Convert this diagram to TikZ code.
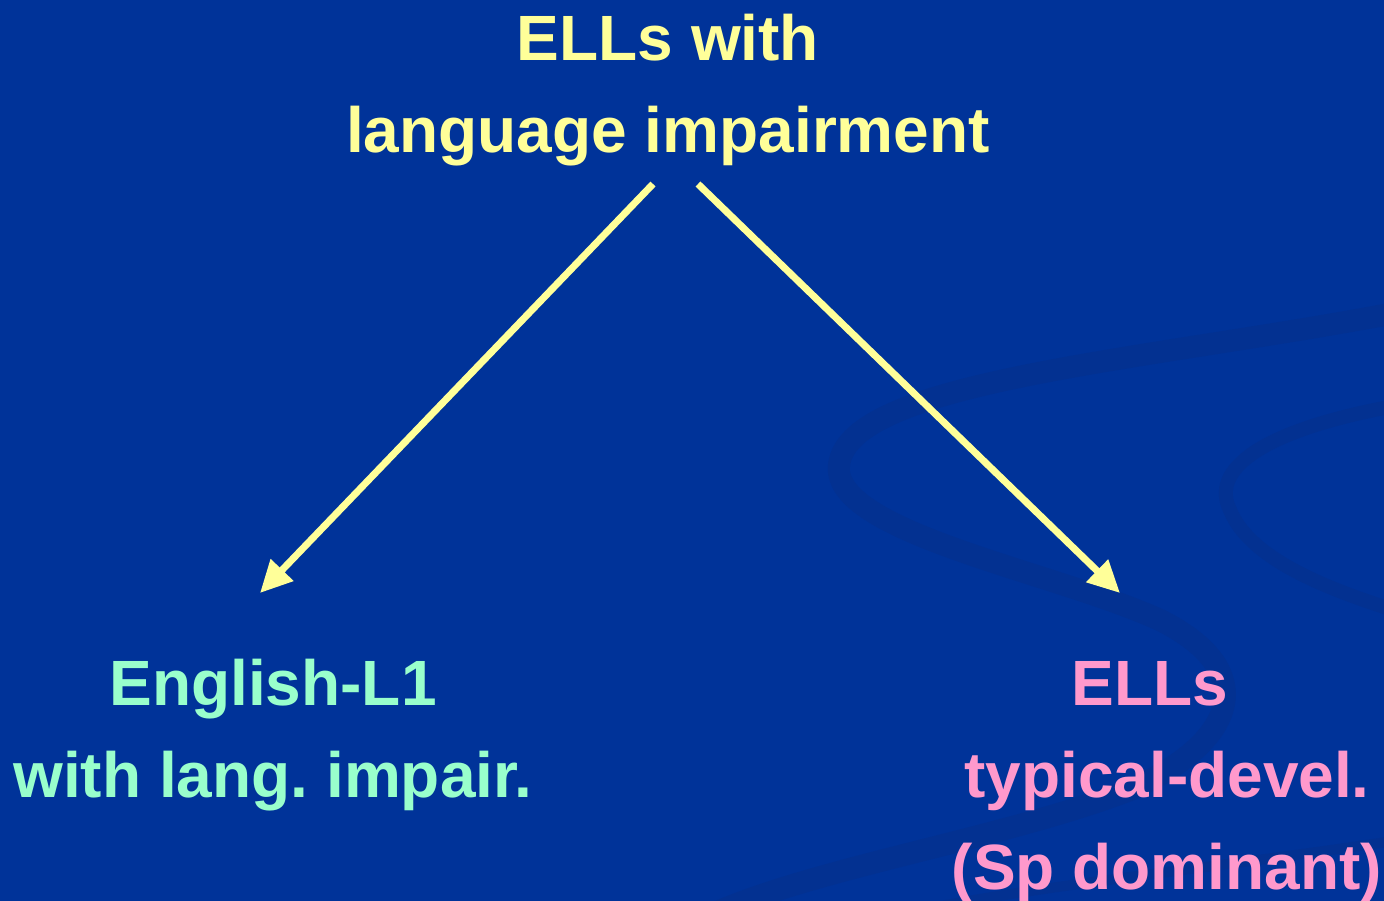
\documentclass[tikz,border=0pt]{standalone}
\usepackage{fontspec}
\setmainfont{Liberation Sans}
\usepackage{tikz}
\usetikzlibrary{arrows.meta,positioning}
\definecolor{slideblue}{HTML}{003399}
\definecolor{swirlblue}{HTML}{033191}
\definecolor{ellyellow}{HTML}{FFFF99}
\definecolor{ellgreen}{HTML}{99FFCC}
\definecolor{ellpink}{HTML}{FF99CC}
\frenchspacing
\tikzset{
  slidetext/.style = {align=center, inner sep=0pt, font=\fontsize{64}{92}\selectfont\bfseries},
  topnode/.style = {slidetext, text=ellyellow},% ELLs with language impairment
  leftnode/.style = {slidetext, text=ellgreen},% English-L1
  rightnode/.style = {slidetext, text=ellpink},% ELLs typical-devel.
  yarrow/.style = {draw=ellyellow, line width=7pt,
    -{Triangle[length=32pt,width=30pt]}}
}

\begin{document}
\begin{tikzpicture}[x=1pt,y=-1pt]
        \useasboundingbox (0,0) rectangle (1384,900);
        \fill[slideblue] (-6,-6) rectangle (1390,906);
        % swirl in the background
        \begin{scope}[swirlblue, line cap=round]
          \clip (-6,-6) rectangle (1390,906);
          \draw[line width=22pt] (1400,312) .. controls (1150,360) and (860,380) .. (840,460)
            .. controls (820,530) and (1050,570) .. (1160,620)
            .. controls (1260,670) and (1240,740) .. (1130,790)
            .. controls (1000,840) and (800,870) .. (700,920);
          \draw[line width=14pt] (1400,405) .. controls (1260,430) and (1210,470) .. (1230,510)
            .. controls (1250,560) and (1330,590) .. (1400,612);
          \draw[line width=10pt] (1400,840) .. controls (1200,870) and (1000,890) .. (900,915);
        \end{scope}
        \node [topnode] (top) at (668,90) {ELLs with\\language impairment};
        \node [leftnode] (left) at (273,735) {English-L1\\with lang. impair.};
        \node [rightnode] (right) at (1167,782) {ELLs\hspace*{34pt}\\typical-devel.\\(Sp dominant)};
        \coordinate (lstart) at (653,184);
        \coordinate (rstart) at (698,184);
        \coordinate (lend) at (260,593);
        \coordinate (rend) at (1120,593);
        \draw [yarrow] (lstart) -- (lend);
        \draw [yarrow] (rstart) -- (rend);
\end{tikzpicture}
\end{document}
